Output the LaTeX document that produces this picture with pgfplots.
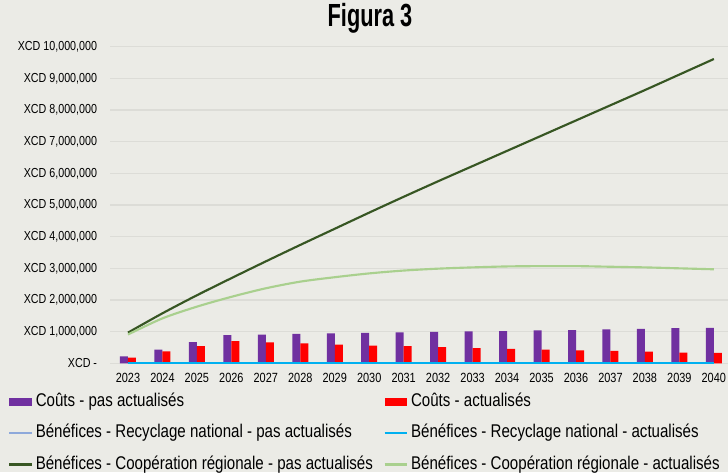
\documentclass[border=0pt]{standalone}
\usepackage{pgfplots}
\pgfplotsset{compat=1.18}
\usepackage{fontspec}
\setmainfont{Liberation Sans}[FakeStretch=0.82]
\newfontfamily\titlefont{Liberation Sans}[FakeStretch=0.68]
\definecolor{bgcol}{RGB}{235,235,230}
\definecolor{gridcol}{RGB}{220,220,215}
\definecolor{cpurple}{RGB}{112,48,160}
\definecolor{cred}{RGB}{255,0,0}
\definecolor{clblue}{RGB}{142,169,219}
\definecolor{ccyan}{RGB}{0,176,240}
\definecolor{cdgreen}{RGB}{55,86,35}
\definecolor{clgreen}{RGB}{169,208,142}
\begin{document}
\begin{tikzpicture}
\fill[bgcol] (0,0) rectangle (546pt,354pt);
\useasboundingbox (0,0) rectangle (546pt,354pt);
\begin{axis}[
  at={(82.5pt,81.5pt)}, anchor=south west,
  scale only axis, width=463.5pt, height=237.5pt,
  xmin=2022.478, xmax=2040.41, ymin=0, ymax=10,
  axis line style={draw=none},
  major tick length=0pt,
  xtick={2023,...,2040},
  ytick={0,...,10},
  yticklabels={XCD -,{XCD 1,000,000},{XCD 2,000,000},{XCD 3,000,000},{XCD 4,000,000},{XCD 5,000,000},{XCD 6,000,000},{XCD 7,000,000},{XCD 8,000,000},{XCD 9,000,000},{XCD 10,000,000}},
  yticklabel style={font=\fontsize{9.8pt}{11pt}\selectfont, inner sep=0pt, xshift=-9.5pt},
  xticklabel style={font=\fontsize{10pt}{12pt}\selectfont, inner sep=0pt, yshift=-7.5pt, /pgf/number format/1000 sep={}, /pgf/number format/assume math mode=true},
  ymajorgrids, major grid style={gridcol, line width=1pt},
  ybar=0pt, bar width=6pt,
  legend columns=2,
  legend cell align=left,
  legend style={at={(-0.165,-0.094)}, anchor=north west, draw=none, fill=none, inner sep=0pt,
    font=\fontsize{13.8pt}{16pt}\selectfont,
    nodes={inner sep=0pt, text height=10pt, text depth=3pt},
    row sep=10.4pt,
    /tikz/every odd column/.append style={column sep=2pt},
    /tikz/every even column/.append style={column sep=8pt}},
]
\addplot[fill=cpurple, draw=none, legend image code/.code={\fill[cpurple] (0pt,-3pt) rectangle (17pt,3pt);}] coordinates {
(2023,0.22)(2024,0.43)(2025,0.67)(2026,0.89)(2027,0.91)(2028,0.93)(2029,0.95)(2030,0.96)(2031,0.98)(2032,0.99)(2033,1.01)(2034,1.02)(2035,1.04)(2036,1.05)(2037,1.075)(2038,1.086)(2039,1.11)(2040,1.12)};
\addlegendentry{Coûts - pas actualisés}
\addplot[fill=cred, draw=none, legend image code/.code={\fill[cred] (0pt,-3pt) rectangle (17pt,3pt);}] coordinates {
(2023,0.18)(2024,0.38)(2025,0.54)(2026,0.70)(2027,0.66)(2028,0.63)(2029,0.59)(2030,0.56)(2031,0.54)(2032,0.51)(2033,0.48)(2034,0.46)(2035,0.43)(2036,0.41)(2037,0.39)(2038,0.37)(2039,0.34)(2040,0.33)};
\addlegendentry{Coûts - actualisés}
\addplot[sharp plot, clblue, line width=1.5pt, mark=none, legend image code/.code={\draw[clblue, line width=1.5pt] (0pt,0pt) -- (17pt,0pt);}] coordinates {
(2023,0)(2024,0)(2025,0)(2026,0)(2027,0)(2028,0)(2029,0)(2030,0)(2031,0)(2032,0)(2033,0)(2034,0)(2035,0)(2036,0)(2037,0)(2038,0)(2039,0)(2040,0)};
\addlegendentry{Bénéfices - Recyclage national - pas actualisés}
\addplot[sharp plot, ccyan, line width=1.5pt, mark=none, legend image code/.code={\draw[ccyan, line width=1.5pt] (0pt,0pt) -- (17pt,0pt);}] coordinates {
(2023,0)(2024,0)(2025,0)(2026,0)(2027,0)(2028,0)(2029,0)(2030,0)(2031,0)(2032,0)(2033,0)(2034,0)(2035,0)(2036,0)(2037,0)(2038,0)(2039,0)(2040,0)};
\addlegendentry{Bénéfices - Recyclage national - actualisés}
\addplot[sharp plot, smooth, cdgreen, line width=1.6pt, mark=none, legend image code/.code={\draw[cdgreen, line width=1.6pt] (0pt,0pt) -- (17pt,0pt);}] coordinates {
(2023,0.97)(2024,1.58)(2025,2.15)(2026,2.69)(2027,3.22)(2028,3.74)(2029,4.25)(2030,4.76)(2031,5.26)(2032,5.75)(2033,6.23)(2034,6.71)(2035,7.19)(2036,7.67)(2037,8.15)(2038,8.63)(2039,9.12)(2040,9.61)};
\addlegendentry{Bénéfices - Coopération régionale - pas actualisés}
\addplot[sharp plot, smooth, clgreen, line width=1.6pt, mark=none, legend image code/.code={\draw[clgreen, line width=1.6pt] (0pt,0pt) -- (17pt,0pt);}] coordinates {
(2023,0.91)(2024,1.42)(2025,1.79)(2026,2.10)(2027,2.37)(2028,2.58)(2029,2.72)(2030,2.84)(2031,2.93)(2032,2.99)(2033,3.03)(2034,3.06)(2035,3.07)(2036,3.07)(2037,3.05)(2038,3.03)(2039,3.00)(2040,2.97)};
\addlegendentry{Bénéfices - Coopération régionale - actualisés}
\end{axis}
\node[font=\titlefont\bfseries\fontsize{24pt}{28pt}\selectfont, inner sep=0pt] at (277.5pt,340.5pt) {Figura 3};
\end{tikzpicture}
\end{document}
